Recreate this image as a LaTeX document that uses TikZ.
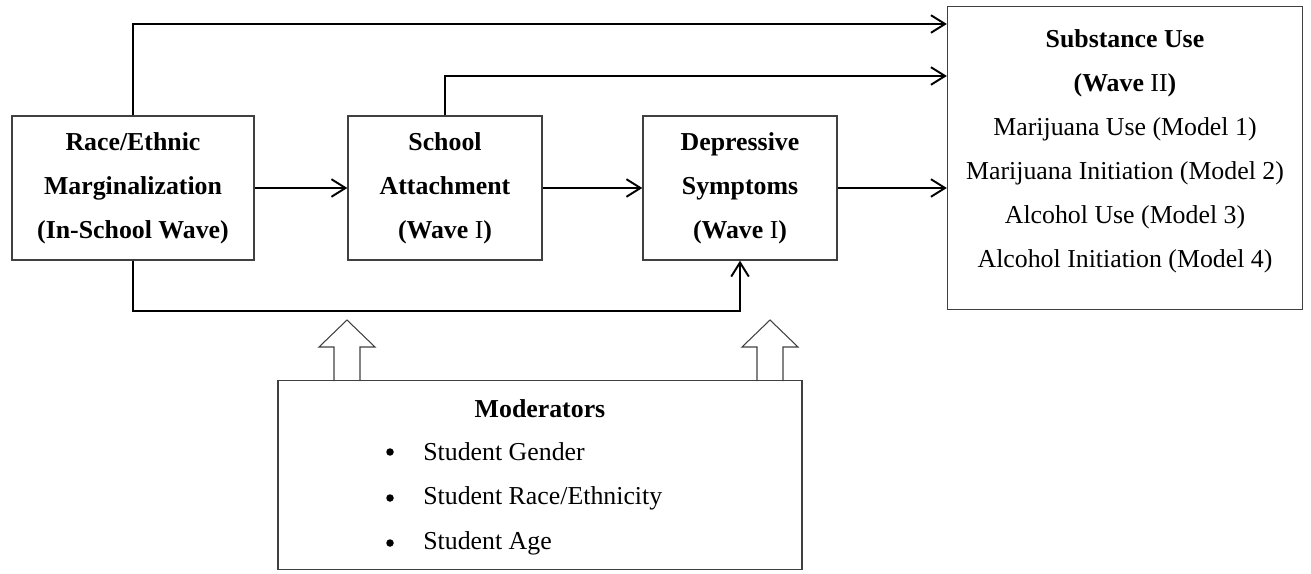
\documentclass[tikz,border=0pt]{standalone}
\usepackage{fontspec}
\setmainfont{Liberation Serif}
\usetikzlibrary{arrows.meta,positioning}
\tikzset{
  box/.style={draw=black!75, line width=0.8pt, align=center,
    font=\fontsize{14.7}{25}\selectfont, inner sep=0pt},
  link/.style={line width=1.1pt, -{Straight Barb[length=8pt,width=10pt]}},
  txt/.style={font=\fontsize{14.7}{25}\selectfont, inner sep=0pt},
  dot/.style={circle, fill, inner sep=0pt, minimum size=0.15cm},
}
\begin{document}
\begin{tikzpicture}[x=0.02cm,y=-0.02cm]
\useasboundingbox (0,0) rectangle (1311,574);
% boxes
\node[box, minimum width=4.84cm, minimum height=2.88cm] (race) at (133,188)
  {\textbf{Race/Ethnic}\\\textbf{Marginalization}\\\textbf{(In-School Wave)}};
\node[box, minimum width=3.88cm, minimum height=2.88cm] (school) at (445,188)
  {\textbf{School}\\\textbf{Attachment}\\\textbf{(Wave }I\textbf{)}};
\node[box, minimum width=3.88cm, minimum height=2.88cm] (dep) at (740,188)
  {\textbf{Depressive}\\\textbf{Symptoms}\\\textbf{(Wave }I\textbf{)}};
\node[box, minimum width=7.1cm, minimum height=6.06cm] (sub) at (1125,158) {};
\node[txt, align=center] (subtext) at (1125,151)
  {\textbf{Substance Use}\\\textbf{(Wave }II\textbf{)}\\Marijuana Use (Model 1)\\
   Marijuana Initiation (Model 2)\\Alcohol Use (Model 3)\\Alcohol Initiation (Model 4)};
\node[box, minimum width=10.48cm, minimum height=3.78cm] (mod) at (540,475) {};
\node[txt] (modtitle) at (540,409) {\textbf{Moderators}};
\foreach \y/\t [count=\i] in {452/{Student Gender}, 498/{Student Race/Ethnicity}, 543/{Student Age}} {
  \node[dot] (bul\i) at (390,\y) {};
  \node[txt, anchor=west] (item\i) at (423,\y) {\t};
}
% paths
\coordinate (t1) at (0,24);
\coordinate (t2) at (0,76);
\draw[link] (race.north) |- (t1 -| sub.west);
\draw[link] (school.north) |- (t2 -| sub.west);
\draw[link] (race.east) -- (school.west);
\draw[link] (school.east) -- (dep.west);
\draw[link] (dep.east) -- (dep.east -| sub.west);
\draw[link] (race.south) -- ++(0,50) -| (dep.south);
% hollow arrows
\foreach \x in {347,770}
  \draw[black!75, line width=0.6pt] (\x-13,381) -- (\x-13,347) -- (\x-28,347) -- (\x,320)
    -- (\x+28,347) -- (\x+13,347) -- (\x+13,381);
\end{tikzpicture}
\end{document}
